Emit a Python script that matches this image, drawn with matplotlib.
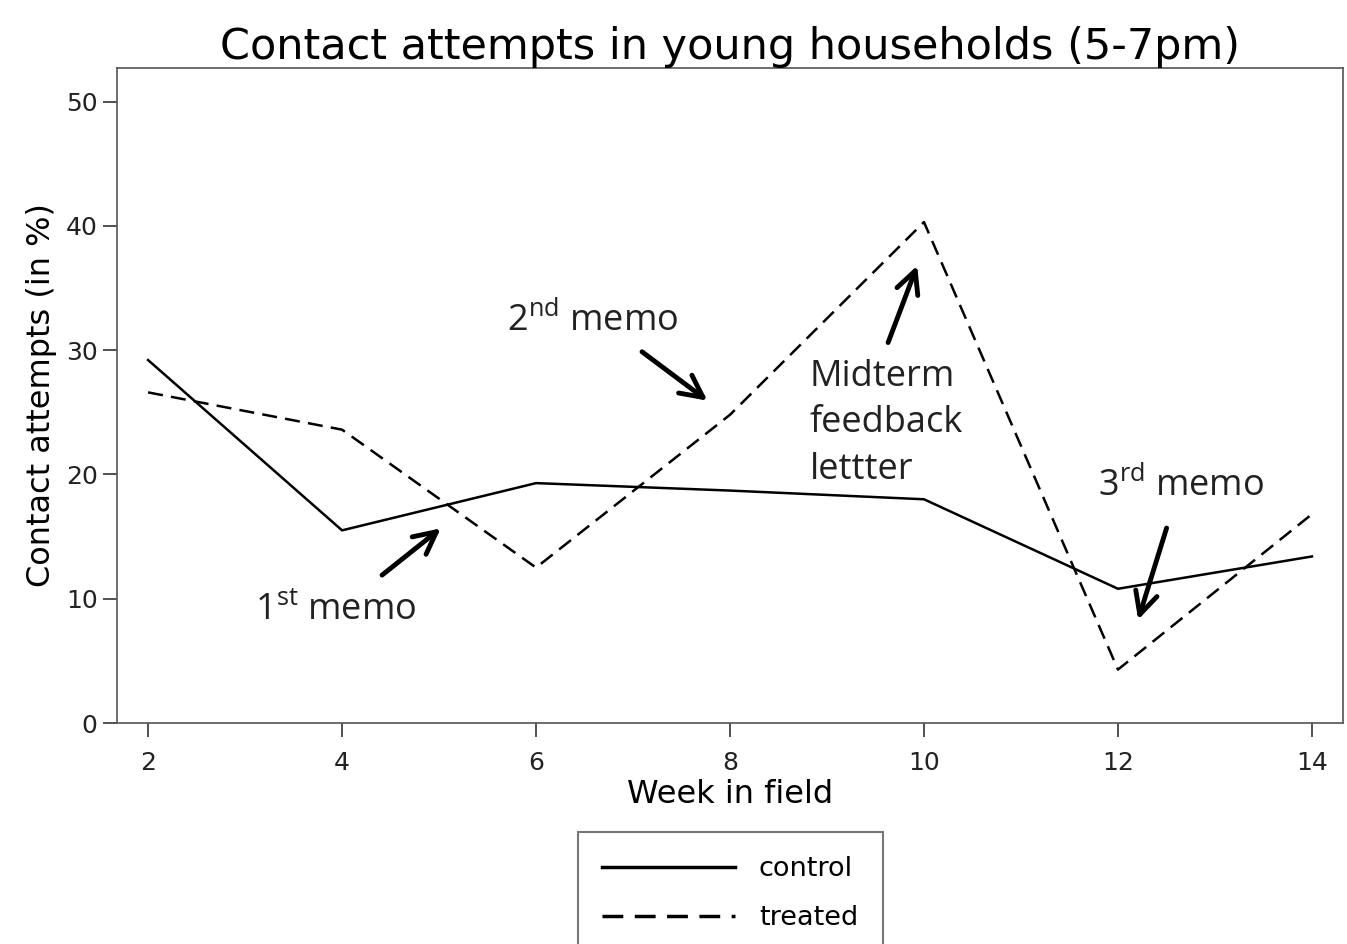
import matplotlib
matplotlib.use('Agg')
import matplotlib.pyplot as plt

# data
weeks = [2, 4, 6, 8, 10, 12, 14]
control = [29.2, 15.5, 19.3, 18.7, 18.0, 10.8, 13.4]
treated = [26.6, 23.6, 12.5, 24.8, 40.3, 4.3, 16.8]

plt.rcParams['font.family'] = ['DejaVu Sans']
plt.rcParams['mathtext.fontset'] = 'custom'
plt.rcParams['mathtext.rm'] = 'Open Sans'

fig = plt.figure(figsize=(13.47, 9.44), dpi=100)
ax = fig.add_axes([0.0869, 0.2341, 0.9101, 0.6939])

ax.plot(weeks, control, color='black', lw=1.8, label='control')
ax.plot(weeks, treated, color='black', lw=1.8, dashes=(6, 3.3), label='treated')

ax.set_xlim(1.68, 14.32)
ax.set_ylim(0, 52.7)
ax.set_xticks(weeks)
ax.set_yticks([0, 10, 20, 30, 40, 50])
ax.tick_params(axis='both', length=10, width=1.2, labelsize=18, color='#333333',
               labelcolor='#222222')
ax.tick_params(axis='x', pad=10)
ax.tick_params(axis='y', pad=4)
for s in ax.spines.values():
    s.set_color('#555555')
    s.set_linewidth(1.2)

ax.set_title('Contact attempts in young households (5-7pm)', fontsize=31, pad=5)
ax.set_xlabel('Week in field', fontsize=23, labelpad=3)
ax.set_ylabel('Contact attempts (in %)', fontsize=23, labelpad=6)

# annotations
afont = dict(fontsize=26, family='Open Sans', color='#222222')
arrow = dict(arrowstyle='->', lw=3.5, color='black', mutation_scale=40)

ax.annotate('', xy=(5.04, 15.8), xytext=(4.39, 11.76), arrowprops=arrow)
ax.text(3.10, 9.0, r'1$^{\mathrm{st}}$ memo', va='center', **afont)

ax.annotate('', xy=(7.79, 25.8), xytext=(7.07, 30.0), arrowprops=arrow)
ax.text(5.70, 32.3, r'2$^{\mathrm{nd}}$ memo', va='center', **afont)

ax.annotate('', xy=(9.94, 37.0), xytext=(9.62, 30.4), arrowprops=arrow)
ax.text(8.82, 24.1, 'Midterm\nfeedback\nlettter', va='center', linespacing=1.39, **afont)

ax.annotate('', xy=(12.20, 8.1), xytext=(12.51, 15.9), arrowprops=arrow)
ax.text(11.79, 19.0, r'3$^{\mathrm{rd}}$ memo', va='center', **afont)

leg = fig.legend(loc='upper center', bbox_to_anchor=(0.542, 0.1186), fontsize=19.5,
                 handlelength=4.9, frameon=True, fancybox=False, borderpad=0.9,
                 labelspacing=0.85, handletextpad=0.9, borderaxespad=0)
leg.get_frame().set_edgecolor('#555555')
leg.get_frame().set_linewidth(1.5)
for line in leg.get_lines():
    line.set_linewidth(2.5)

fig.savefig('out.png', dpi=100)
